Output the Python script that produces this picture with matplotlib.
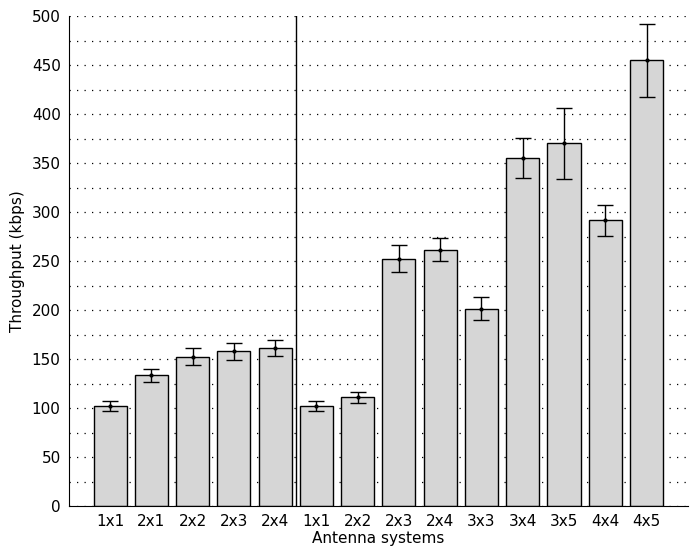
import matplotlib
matplotlib.use('Agg')
from matplotlib import pyplot as plt
from matplotlib.ticker import MultipleLocator

labels = ['1x1', '2x1', '2x2', '2x3', '2x4',
          '1x1', '2x2', '2x3', '2x4', '3x3', '3x4', '3x5', '4x4', '4x5']
throughput = [102, 133.5, 152.5, 158, 161.5,
              102, 111, 252.5, 261.5, 201.5, 355.5, 370, 291.5, 455]
err = [4.8, 6.7, 8.7, 8.7, 8.2,
       4.8, 5.6, 14.2, 11.7, 11.3, 20.4, 36.2, 16, 37.2]

plt.rcParams['font.family'] = ['DejaVu Sans']

fig = plt.figure(figsize=(6.94, 5.56), dpi=100)
ax = fig.add_axes([0.0994, 0.0899, 0.8916, 0.8813])

pos = list(range(1, len(labels) + 1))
ax.bar(pos, throughput, width=0.8, color='#d6d6d6', edgecolor='black', linewidth=1.0, zorder=2)
ax.errorbar(pos, throughput, yerr=err, fmt='.', color='black', markersize=4,
            ecolor='black', elinewidth=1.0, capsize=5.5, capthick=1.0, zorder=3)
ax.axvline(x=5.5, color='black', linewidth=1.0, zorder=4)

ax.set_xlim(0, 15)
ax.set_ylim(0, 500)
ax.set_xticks(pos)
ax.set_xticklabels(labels)
ax.yaxis.set_major_locator(MultipleLocator(50))
ax.yaxis.set_minor_locator(MultipleLocator(25))
ax.grid(axis='y', which='both', color='black', linestyle=(0, (1, 5)), linewidth=0.9, zorder=0)
ax.set_axisbelow(True)
ax.tick_params(axis='both', which='both', direction='in', length=0, labelsize=11, pad=6)
ax.spines['top'].set_visible(False)
ax.spines['right'].set_visible(False)

ax.set_xlabel('Antenna systems', fontsize=11, labelpad=1)
ax.set_ylabel('Throughput (kbps)', fontsize=11, labelpad=5)

fig.savefig('out.png', dpi=100)
